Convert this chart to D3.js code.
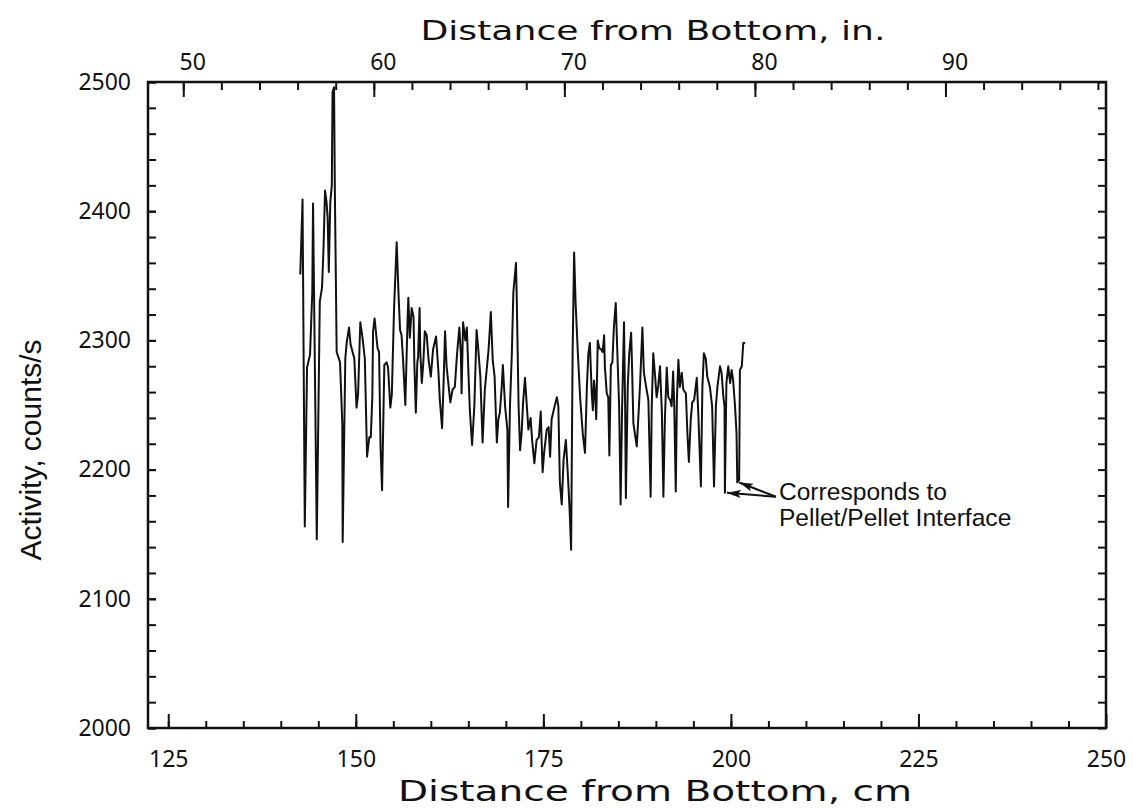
<!DOCTYPE html>
<html>
<head>
<meta charset="utf-8">
<script src="https://cdn.jsdelivr.net/npm/d3@7"></script>
<style>
  body { margin: 0; background: #fff; }
  svg { display: block; }
</style>
</head>
<body>
<script>
const w = 1133;
const h = 809;

// readings: distance (cm) and activity (counts/s)
const distanceCm = [
  142.6, 142.9, 143.2, 143.5, 143.9, 144.2, 144.3, 144.8, 145.2, 145.5,
  145.7, 145.9, 146.1, 146.25, 146.4, 146.6, 146.8, 146.9, 147.1, 147.2,
  147.45, 147.9, 148.2, 148.25, 148.6, 148.8, 149.1, 149.3, 149.8, 150.1,
  150.3, 150.6, 150.9, 151.2, 151.5, 151.8, 152.0, 152.2, 152.3, 152.5,
  152.9, 153.1, 153.3, 153.5, 153.8, 154.1, 154.3, 154.6, 154.8, 155.1,
  155.45, 155.7, 155.9, 156.1, 156.3, 156.6, 156.9, 157.0, 157.2, 157.45,
  157.7, 157.8, 158.0, 158.2, 158.3, 158.5, 158.6, 158.8, 159.0, 159.2,
  159.45, 159.7, 160.0, 160.3, 160.7, 161.0, 161.2, 161.5, 161.7, 161.9,
  162.1, 162.6, 162.9, 163.2, 163.5, 163.8, 164.0, 164.1, 164.3, 164.6,
  164.8, 165.0, 165.2, 165.5, 165.8, 166.1, 166.3, 166.6, 166.9, 167.2,
  167.7, 168.0, 168.25, 168.5, 168.8, 169.0, 169.2, 169.45, 169.6, 169.9,
  170.2, 170.3, 170.55, 170.8, 171.0, 171.35, 171.45, 171.7, 171.9, 172.1,
  172.3, 172.55, 172.8, 173.0, 173.3, 173.5, 173.8, 174.1, 174.4, 174.65,
  174.9, 175.1, 175.45, 175.7, 175.9, 176.1, 176.5, 176.8, 177.0, 177.2,
  177.45, 177.7, 178.0, 178.25, 178.5, 178.7, 178.9, 179.1, 179.3, 179.6,
  179.9, 180.25, 180.55, 180.8, 181.0, 181.2, 181.45, 181.6, 181.75, 181.9,
  182.05, 182.25, 182.45, 182.7, 182.9, 183.1, 183.2, 183.45, 183.65, 183.8,
  184.0, 184.2, 184.4, 184.65, 184.85, 185.1, 185.3, 185.5, 185.75, 185.9,
  186.0, 186.25, 186.45, 186.7, 186.8, 187.0, 187.45, 187.65, 187.9, 188.2,
  188.4, 188.7, 189.0, 189.3, 189.45, 189.65, 189.9, 190.1, 190.3, 190.55,
  190.8, 191.0, 191.2, 191.45, 191.65, 191.9, 192.1, 192.3, 192.45, 192.65,
  192.8, 193.0, 193.2, 193.45, 193.65, 194.0, 194.2, 194.4, 194.65, 194.85,
  195.1, 195.45, 195.65, 196.0, 196.2, 196.4, 196.65, 196.85, 197.2, 197.5,
  197.75, 198.0, 198.2, 198.55, 198.75, 199.0, 199.15, 199.2, 199.4, 199.65,
  199.9, 200.1, 200.3, 200.55, 200.75, 200.85, 201.1, 201.2, 201.45, 201.65,
  201.9
];
const activity = [
  2351, 2409, 2156, 2279, 2289, 2338, 2406, 2146, 2330, 2341,
  2372, 2416, 2407, 2395, 2353, 2407, 2420, 2492, 2496, 2420,
  2291, 2283, 2235, 2144, 2286, 2299, 2310, 2297, 2286, 2248,
  2258, 2314, 2302, 2286, 2210, 2225, 2225, 2256, 2307, 2317,
  2294, 2291, 2217, 2184, 2281, 2283, 2279, 2248, 2258, 2325,
  2376, 2335, 2308, 2304, 2285, 2250, 2316, 2333, 2302, 2325,
  2318, 2283, 2244, 2283, 2287, 2325, 2290, 2267, 2283, 2307,
  2304, 2285, 2272, 2293, 2303, 2277, 2254, 2232, 2267, 2307,
  2280, 2252, 2262, 2264, 2290, 2310, 2290, 2259, 2314, 2300,
  2310, 2277, 2246, 2219, 2249, 2308, 2295, 2272, 2221, 2262,
  2293, 2322, 2285, 2272, 2221, 2239, 2244, 2264, 2281, 2249,
  2231, 2171, 2249, 2290, 2337, 2360, 2334, 2249, 2215, 2228,
  2252, 2271, 2249, 2231, 2240, 2223, 2205, 2223, 2225, 2245,
  2198, 2213, 2231, 2233, 2210, 2239, 2249, 2256, 2249, 2190,
  2173, 2208, 2223, 2198, 2169, 2138, 2290, 2368, 2329, 2290,
  2256, 2228, 2213, 2264, 2290, 2298, 2259, 2246, 2269, 2259,
  2239, 2300, 2294, 2293, 2291, 2304, 2280, 2259, 2256, 2211,
  2281, 2283, 2310, 2329, 2293, 2249, 2173, 2249, 2314, 2249,
  2178, 2264, 2290, 2306, 2285, 2236, 2218, 2239, 2267, 2310,
  2275, 2264, 2254, 2179, 2249, 2290, 2272, 2256, 2264, 2280,
  2244, 2179, 2239, 2279, 2256, 2254, 2249, 2276, 2249, 2183,
  2254, 2285, 2264, 2275, 2262, 2259, 2228, 2206, 2239, 2252,
  2254, 2271, 2244, 2187, 2264, 2290, 2286, 2272, 2264, 2249,
  2187, 2249, 2264, 2280, 2275, 2256, 2249, 2182, 2267, 2280,
  2267, 2277, 2269, 2249, 2228, 2190, 2192, 2277, 2280, 2298,
  2298
];

const cmTicks = [125, 150, 175, 200, 225, 250];
const cmMinor = d3.range(125, 250, 5);
const inchTicks = [50, 60, 70, 80, 90];
const inchMinor = d3.range(50, 99, 2);
const countTicks = [2000, 2100, 2200, 2300, 2400, 2500];
const countMinor = d3.range(2000, 2501, 20);

// the two dips the note points at
const interfaceCm = [199.2, 200.85];
const interfaceCounts = [2182, 2190];

const title = "Distance from Bottom, in.";
const xAxisLabel = "Distance from Bottom, cm";
const yAxisLabel = "Activity, counts/s";
const note = ["Corresponds to", "Pellet/Pellet Interface"];

const tickFont = "'Noto Sans', sans-serif";
const titleFont = "'DejaVu Sans', sans-serif";
const noteFont = "'Liberation Sans', Arial, sans-serif";
const ink = "#111";

const svg = d3.select("body").append("svg").attr("width", w).attr("height", h);
svg.append("rect").attr("width", w).attr("height", h).attr("fill", "#fff");

const f = { l: 148, r: 1106, t: 82, b: 728 };

const xScale = d3.scaleLinear().domain([122.3, 250]).range([f.l, f.r]);
const xInScale = d3
  .scaleLinear()
  .domain([122.3 / 2.54, 250 / 2.54])
  .range([f.l, f.r]);
const yScale = d3.scaleLinear().domain([2000, 2500]).range([f.b, f.t]);

const plain = d3.format("d");

const drawAxis = (axis, tx, ty) => {
  const g = svg
    .append("g")
    .attr("transform", `translate(${tx}, ${ty})`)
    .call(axis);
  g.select(".domain").remove();
  g.selectAll("line").attr("stroke", ink).attr("stroke-width", 2);
  g.selectAll("text")
    .attr("font-family", tickFont)
    .attr("font-size", 23)
    .attr("fill", ink);
  return g;
};

// bottom axis (cm)
drawAxis(
  d3.axisBottom(xScale).tickValues(cmMinor).tickSize(-7).tickFormat(""),
  0,
  f.b
);
drawAxis(
  d3
    .axisBottom(xScale)
    .tickValues(cmTicks)
    .tickSize(-14)
    .tickPadding(23)
    .tickFormat(plain),
  0,
  f.b
);

// top axis (in.)
drawAxis(
  d3.axisTop(xInScale).tickValues(inchMinor).tickSize(-8).tickFormat(""),
  0,
  f.t
);
drawAxis(
  d3
    .axisTop(xInScale)
    .tickValues(inchTicks)
    .tickSize(-15)
    .tickPadding(12)
    .tickFormat(plain),
  0,
  f.t
)
  .selectAll("text")
  .attr("dx", 9);

// left and right axes (counts/s)
drawAxis(
  d3.axisLeft(yScale).tickValues(countMinor).tickSize(-8).tickFormat(""),
  f.l,
  0
);
drawAxis(
  d3
    .axisLeft(yScale)
    .tickValues(countTicks)
    .tickSize(-8)
    .tickPadding(17)
    .tickFormat(plain),
  f.l,
  0
);
drawAxis(
  d3.axisRight(yScale).tickValues(countMinor).tickSize(-8).tickFormat(""),
  f.r,
  0
);

// frame
svg
  .append("rect")
  .attr("x", f.l)
  .attr("y", f.t)
  .attr("width", f.r - f.l)
  .attr("height", f.b - f.t)
  .attr("fill", "none")
  .attr("stroke", ink)
  .attr("stroke-width", 2.5);

// titles
svg
  .append("text")
  .attr("x", 653)
  .attr("y", 40)
  .attr("text-anchor", "middle")
  .attr("font-family", titleFont)
  .attr("font-size", 27)
  .attr("textLength", 465)
  .attr("lengthAdjust", "spacingAndGlyphs")
  .attr("fill", ink)
  .text(title);
svg
  .append("text")
  .attr("x", 655)
  .attr("y", 801)
  .attr("text-anchor", "middle")
  .attr("font-family", titleFont)
  .attr("font-size", 28)
  .attr("textLength", 514)
  .attr("lengthAdjust", "spacingAndGlyphs")
  .attr("fill", ink)
  .text(xAxisLabel);
svg
  .append("text")
  .attr("transform", `translate(41, 450) rotate(-90)`)
  .attr("text-anchor", "middle")
  .attr("font-family", noteFont)
  .attr("font-size", 30)
  .attr("fill", ink)
  .text(yAxisLabel);

// trace
const points = d3.zip(distanceCm, activity);
const line = d3
  .line()
  .x((d) => xScale(d[0]))
  .y((d) => yScale(d[1]));
svg
  .append("path")
  .datum(points)
  .attr("d", line)
  .attr("fill", "none")
  .attr("stroke", ink)
  .attr("stroke-width", 2)
  .attr("stroke-linejoin", "round");

// note with arrows
svg
  .append("defs")
  .append("marker")
  .attr("id", "head")
  .attr("viewBox", "0 0 14 8")
  .attr("refX", 14)
  .attr("refY", 4)
  .attr("markerWidth", 14)
  .attr("markerHeight", 8)
  .attr("markerUnits", "userSpaceOnUse")
  .attr("orient", "auto")
  .append("path")
  .attr("d", "M0,0 L14,4 L0,8 L3,4 Z")
  .attr("fill", ink);

const tailX = xScale(206);
const tailY = yScale(2179);
interfaceCm.forEach((cm, i) => {
  svg
    .append("line")
    .attr("x1", tailX)
    .attr("y1", tailY)
    .attr("x2", xScale(cm) + 2)
    .attr("y2", yScale(interfaceCounts[i]))
    .attr("stroke", ink)
    .attr("stroke-width", 2)
    .attr("marker-end", "url(#head)");
});

svg
  .append("g")
  .selectAll("text")
  .data(note)
  .enter()
  .append("text")
  .attr("x", tailX + 3)
  .attr("y", (d, i) => 500 + i * 26)
  .attr("font-family", noteFont)
  .attr("font-size", 24.6)
  .attr("fill", ink)
  .text((d) => d);
</script>
</body>
</html>
